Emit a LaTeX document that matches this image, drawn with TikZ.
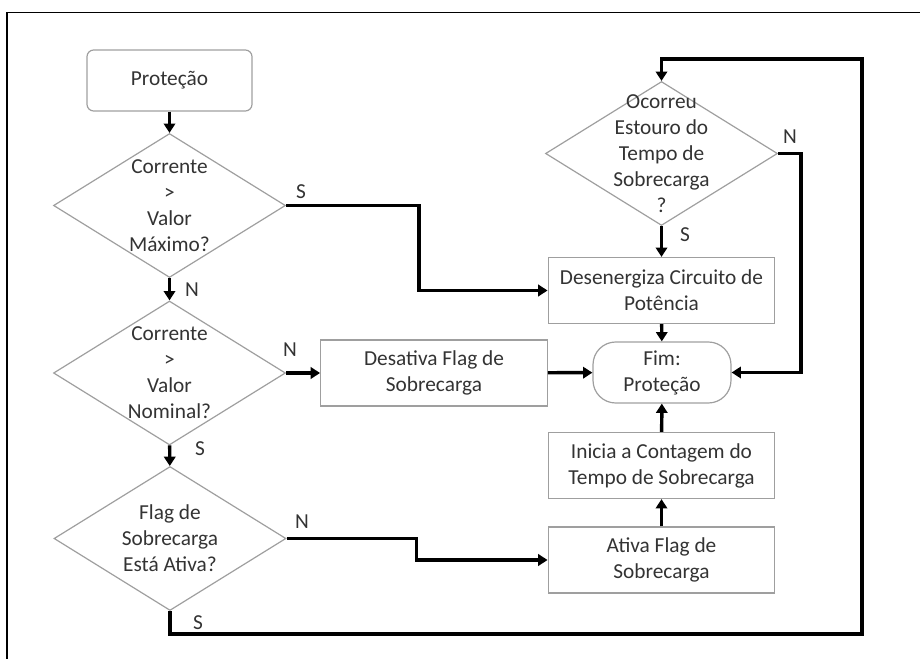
\documentclass[tikz,border=0pt]{standalone}
\usepackage{fontspec}
\setmainfont{Carlito}
\usetikzlibrary{shapes.geometric,arrows.meta}
\definecolor{ink}{HTML}{333333}
\definecolor{outline}{HTML}{9F9F9F}
\begin{document}
\begin{tikzpicture}[x=0.75pt,y=-0.75pt,
  every node/.style={font=\fontsize{16}{19.5}\selectfont, text=ink},
  procbox/.style={draw=outline, line width=0.9pt, minimum width=170pt,
    minimum height=49.5pt, align=center, inner sep=0pt},
  termbox/.style={draw=outline, line width=0.9pt, minimum height=45.75pt,
    align=center, inner sep=0pt},
  decision/.style={draw=outline, line width=0.9pt, diamond, inner sep=0pt,
    minimum width=174pt, minimum height=108pt},
  conn/.style={line width=2.6pt, draw=black},
  arr/.style={conn, -{Triangle[length=7pt,width=8.5pt]}},
  branch/.style={font=\fontsize{16}{17}\selectfont, inner sep=1pt}
]
\useasboundingbox (0,0) rectangle (920,659);

% page frame (top and left edges)
\draw[line width=1pt] (7,659) -- (7,12.5) -- (920,12.5);

% nodes
\node[termbox, rounded corners=5pt, minimum width=123.75pt] (start) at (169.5,80.5) {Proteção};
\node[decision, label={[align=center]center:Corrente\\>\\Valor\\Máximo?}] (d1) at (169.5,205.5) {};
\node[decision, label={[align=center]center:Corrente\\>\\Valor\\Nominal?}] (d2) at (169.5,373) {};
\node[decision, label={[align=center]center:Flag de\\Sobrecarga\\Está Ativa?}] (d3) at (170,538.5) {};
\node[decision, label={[align=center]center:Ocorreu\\Estouro do\\Tempo de\\Sobrecarga\\?}] (ocor) at (661.5,153.5) {};

\node[procbox] (desen) at (661.5,290.5) {Desenergiza Circuito de\\Potência};
\node[procbox] (desat) at (434,373) {Desativa Flag de\\Sobrecarga};
\node[termbox, rounded corners=17pt, minimum width=103.5pt] (fim) at (662,372.5) {Fim:\\Proteção};
\node[procbox] (inicia) at (661.5,465.5) {Inicia a Contagem do\\Tempo de Sobrecarga};
\node[procbox] (ativa) at (661.5,560) {Ativa Flag de\\Sobrecarga};

\coordinate (loopBR) at (862,634);
\coordinate (loopTR) at (862,59);

% connectors
\draw[arr] (start) -- (d1);
\draw[arr] (d1.east) -- ++(133,0) |- (desen.west);
\node[branch] at (301,192) {S};
\draw[arr] (d1) -- (d2);
\node[branch] at (192,290) {N};
\draw[arr] (d2.east) -- (desat.west);
\node[branch] at (290,350) {N};
\draw[arr] (d2) -- (d3);
\node[branch] at (200,449) {S};
\draw[arr] (d3.east) -- ++(130,0) |- (ativa.west);
\node[branch] at (302,522) {N};
\draw[arr] (d3.south) |- (loopBR) -- (loopTR) -| (ocor.north);
\node[branch] at (198,623) {S};
\draw[arr] (ocor) -- (desen);
\node[branch] at (685,235) {S};
\draw[arr] (ocor.east) -- ++(23,0) |- (fim.east);
\node[branch] at (790,137) {N};
\draw[arr] (desen) -- (fim);
\draw[arr] (desat) -- (fim);
\draw[arr] (inicia) -- (fim);
\draw[arr] (ativa) -- (inicia);
\end{tikzpicture}
\end{document}
